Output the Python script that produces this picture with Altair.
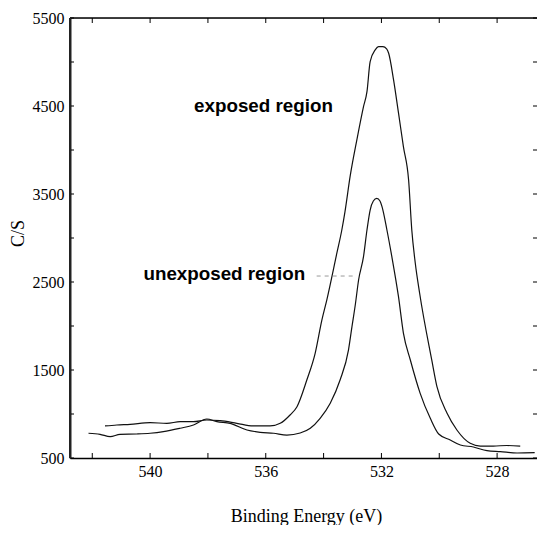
import altair as alt
import pandas as pd

# ---- data ----
exposed_E = [541.56, 541.15, 540.69, 540.00, 539.42, 538.96, 538.51, 538.04, 537.58, 537.00,
             536.44, 535.85, 535.50, 535.16, 534.92, 534.58, 534.29, 534.06, 533.89, 533.54,
             533.37, 533.26, 533.08, 532.85, 532.62, 532.50, 532.39, 532.21, 532.10, 531.95,
             531.82, 531.75, 531.58, 531.41, 531.24, 531.06, 530.95, 530.83, 530.68, 530.26,
             530.08, 529.73, 529.39, 528.93, 528.58, 528.13, 527.66, 527.20]
exposed_V = [864, 875, 883, 901, 894, 913, 913, 932, 924, 894,
             864, 864, 894, 989, 1083, 1386, 1693, 2068, 2295, 2830,
             3091, 3300, 3705, 4114, 4492, 4663, 5003, 5140, 5174, 5174,
             5150, 5099, 4796, 4421, 4038, 3659, 3091, 2716, 2375, 1614,
             1310, 1008, 818, 667, 636, 636, 642, 636]

unexposed_E = [542.13, 541.73, 541.38, 541.04, 540.46, 540.00, 539.54, 538.96, 538.50, 538.04,
               537.69, 537.23, 536.65, 536.19, 535.73, 535.27, 534.81, 534.46, 534.12, 533.77,
               533.43, 533.14, 533.02, 532.90, 532.79, 532.62, 532.50, 532.39, 532.28, 532.16,
               532.05, 531.98, 531.81, 531.64, 531.41, 531.24, 531.00, 530.66, 530.31, 530.02,
               529.62, 529.27, 528.82, 528.35, 527.89, 527.31, 526.70]
unexposed_V = [781, 769, 742, 769, 773, 781, 799, 838, 875, 943,
               913, 894, 818, 792, 781, 761, 784, 838, 951, 1122,
               1386, 1727, 1990, 2250, 2523, 2788, 3091, 3318, 3420, 3451,
               3420, 3356, 3091, 2788, 2333, 1920, 1614, 1235, 951, 773,
               705, 648, 625, 583, 572, 557, 560]

x_label_values = [540, 536, 532, 528]
x_tick_values = [542, 540, 538, 536, 534, 532, 530, 528]
y_label_values = [500, 1500, 2500, 3500, 4500, 5500]
y_tick_values = [500, 1000, 1500, 2000, 2500, 3000, 3500, 4000, 4500, 5000, 5500]

ann_labels = ["exposed region", "unexposed region"]
ann_E = [538.48, 540.23]
ann_V = [4435, 2523]

leader_E = [534.24]
leader_E2 = [532.91]
leader_V = [2568]

# ---- chart ----
W, H = 467, 440
xscale = alt.Scale(domain=[526.62, 542.77], reverse=True, nice=False, zero=False)
yscale = alt.Scale(domain=[500, 5500], nice=False, zero=False)

curves = pd.DataFrame({
    "E": exposed_E + unexposed_E,
    "V": exposed_V + unexposed_V,
    "series": ["exposed"] * len(exposed_E) + ["unexposed"] * len(unexposed_E),
})

serif = "Liberation Serif"

lines = alt.Chart(curves).mark_line(
    color="#111", strokeWidth=1.2, interpolate="monotone").encode(
    x=alt.X("E:Q", scale=xscale, axis=alt.Axis(
        values=x_label_values, ticks=False, grid=False, domain=True,
        domainColor="black", domainWidth=1.5,
        labelFont=serif, labelFontSize=16, labelColor="black", labelPadding=5,
        labelFlush=False, format="d",
        title="Binding Energy (eV)", titleFont=serif, titleFontSize=18,
        titleFontWeight="normal", titleColor="black",
        titleX=236, titleY=63, titleAlign="center", titleBaseline="alphabetic")),
    y=alt.Y("V:Q", scale=yscale, axis=alt.Axis(
        values=y_label_values, ticks=False, grid=False, domain=True,
        domainColor="#222", domainWidth=2,
        labelFont=serif, labelFontSize=16, labelColor="black", labelPadding=6,
        format="d",
        title="C/S", titleFont=serif, titleFontSize=18,
        titleFontWeight="normal", titleColor="black",
        titleX=-52, titleY=215, titleAngle=270, titleAlign="center",
        titleBaseline="middle")),
    detail="series:N",
)

xt = pd.DataFrame({"E": x_tick_values})
yt = pd.DataFrame({"V": y_tick_values})

bottom_ticks = alt.Chart(xt).mark_rule(color="black", strokeWidth=1).encode(
    x=alt.X("E:Q", scale=xscale), y=alt.value(H), y2=alt.value(H - 5))
top_ticks = alt.Chart(xt).mark_rule(color="black", strokeWidth=1).encode(
    x=alt.X("E:Q", scale=xscale), y=alt.value(0), y2=alt.value(5))
left_ticks = alt.Chart(yt).mark_rule(color="black", strokeWidth=1).encode(
    y=alt.Y("V:Q", scale=yscale), x=alt.value(0), x2=alt.value(4))
right_ticks = alt.Chart(yt).mark_rule(color="black", strokeWidth=1).encode(
    y=alt.Y("V:Q", scale=yscale), x=alt.value(W), x2=alt.value(W - 4))

frame = pd.DataFrame({"a": [0]})
top_line = alt.Chart(frame).mark_rule(color="black", strokeWidth=1.5).encode(
    x=alt.value(0), x2=alt.value(W), y=alt.value(0))
left_line = alt.Chart(frame).mark_rule(color="#222", strokeWidth=2).encode(
    x=alt.value(0), y=alt.value(0), y2=alt.value(H))

ann = pd.DataFrame({"E": ann_E, "V": ann_V, "label": ann_labels})
texts = alt.Chart(ann).mark_text(
    align="left", baseline="alphabetic", font="Liberation Sans", fontWeight="bold",
    fontSize=18.8, color="black").encode(
    x=alt.X("E:Q", scale=xscale),
    y=alt.Y("V:Q", scale=yscale),
    text="label:N")

leader = pd.DataFrame({"E": leader_E, "E2": leader_E2, "V": leader_V})
leader_rule = alt.Chart(leader).mark_rule(color="#999", strokeDash=[4, 4], strokeWidth=1).encode(
    x=alt.X("E:Q", scale=xscale), x2="E2:Q",
    y=alt.Y("V:Q", scale=yscale))

chart = alt.layer(
    lines, bottom_ticks, top_ticks, left_ticks, right_ticks, top_line, left_line,
    texts, leader_rule
).properties(
    width=W, height=H,
    autosize=alt.AutoSizeParams(type="none"),
    padding={"left": 62, "top": 10, "right": 0, "bottom": 67},
).configure_view(stroke=None).configure(background="white")

chart.save("out.html", embed_options={"renderer": "svg", "actions": False})
